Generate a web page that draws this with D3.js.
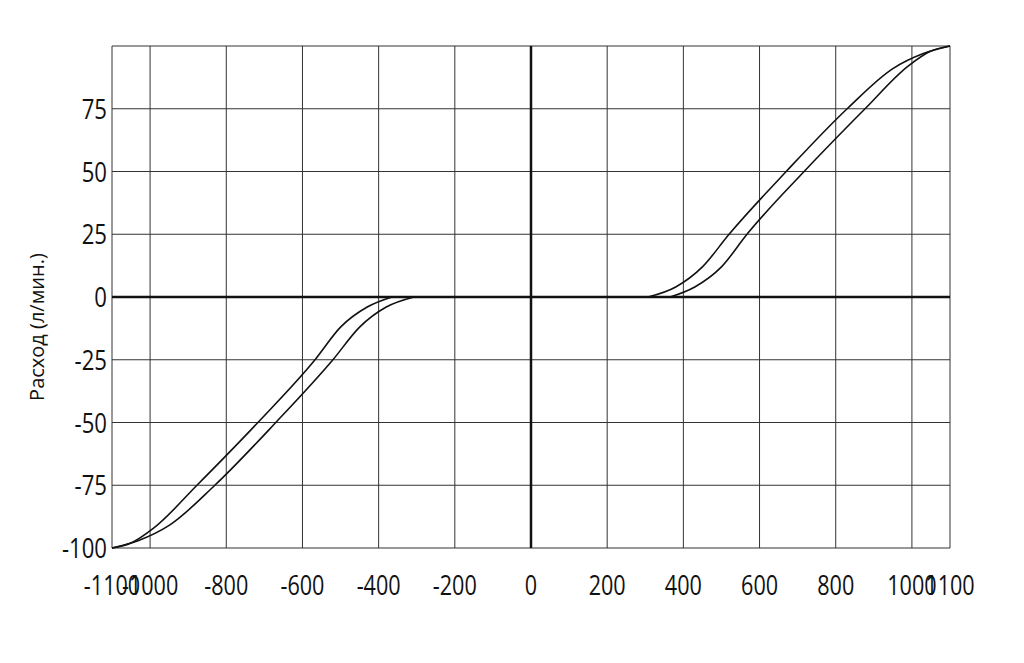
<!DOCTYPE html><html><head><meta charset="utf-8"><script src="https://d3js.org/d3.v7.min.js"></script>
<style>body{margin:0;background:#fff}text{font-family:"Open Sans",sans-serif;fill:#111}</style></head><body><svg width="1024" height="663"></svg><script>
const xTicks=[-1100,-1000,-800,-600,-400,-200,0,200,400,600,800,1000,1100];
const yTicks=[-100,-75,-50,-25,0,25,50,75];
const yGrid=[-100,-75,-50,-25,0,25,50,75,100];
const upperRight=[[307,0],[380,4],[450,12],[520,25],[670,50],[830,75],[950,91],[1030,97],[1100,100]];
const lowerRight=[[365,0],[430,4],[500,12],[567,25],[717,50],[877,75],[990,92],[1050,98],[1100,100]];
const svg=d3.select("svg");
const x=d3.scaleLinear().domain([-1100,1100]).range([112,950]);
const y=d3.scaleLinear().domain([-100,100]).range([548,46]);
svg.selectAll(".vg").data(xTicks).enter().append("line").attr("x1",d=>x(d)).attr("x2",d=>x(d)).attr("y1",y(-100)).attr("y2",y(100)).attr("stroke","#333").attr("stroke-width",1);
svg.selectAll(".hg").data(yGrid).enter().append("line").attr("y1",d=>y(d)).attr("y2",d=>y(d)).attr("x1",x(-1100)).attr("x2",x(1100)).attr("stroke","#333").attr("stroke-width",1);
svg.append("line").attr("x1",x(0)).attr("x2",x(0)).attr("y1",y(-100)).attr("y2",y(100)).attr("stroke","#111").attr("stroke-width",2.5);
svg.append("line").attr("y1",y(0)).attr("y2",y(0)).attr("x1",x(-1100)).attr("x2",x(1100)).attr("stroke","#111").attr("stroke-width",2.5);
const line=d3.line().x(d=>x(d[0])).y(d=>y(d[1])).curve(d3.curveMonotoneX);
const neg=a=>a.map(d=>[-d[0],-d[1]]).reverse();
[upperRight,lowerRight,neg(upperRight),neg(lowerRight)].forEach(c=>svg.append("path").attr("d",line(c)).attr("fill","none").attr("stroke","#111").attr("stroke-width",1.6));
svg.selectAll(".xt").data(xTicks).enter().append("text").attr("transform",d=>`translate(${x(d)},595) scale(0.8,1)`).attr("text-anchor","middle").attr("font-size",27).text(d=>d);
svg.selectAll(".yt").data(yTicks).enter().append("text").attr("transform",d=>`translate(107,${y(d)+10}) scale(0.82,1)`).attr("text-anchor","end").attr("font-size",27).text(d=>d);
svg.append("text").attr("transform","translate(44,327) rotate(-90)").attr("text-anchor","middle").attr("font-size",20).text("Расход (л/мин.)");
</script></body></html>
